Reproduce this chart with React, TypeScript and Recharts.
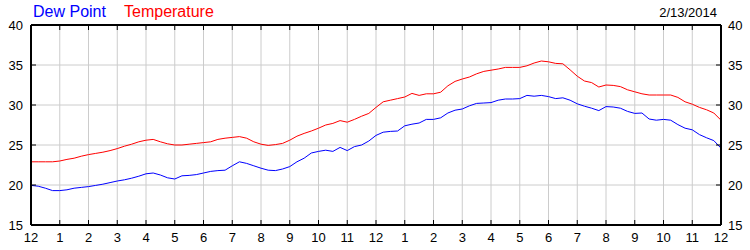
import { LineChart, Line, XAxis, YAxis, CartesianGrid } from 'recharts';

// ---------------------------------------------------------------------------
// Data: readings every 15 minutes, midnight to midnight (2/13/2014)
// ---------------------------------------------------------------------------

const TEMPERATURE = [
  22.9, 22.9, 22.9, 22.9, 23.0, 23.2, 23.35, 23.6, 23.8, 23.95, 24.1, 24.3,
  24.55, 24.85, 25.1, 25.4, 25.6, 25.7, 25.4, 25.15, 25.0, 25.0, 25.1, 25.2,
  25.3, 25.4, 25.7, 25.85, 25.95, 26.05, 25.85, 25.4, 25.1, 24.95, 25.05, 25.2,
  25.6, 26.1, 26.45, 26.75, 27.1, 27.5, 27.7, 28.05, 27.85, 28.2, 28.6, 28.95,
  29.7, 30.4, 30.6, 30.8, 31.0, 31.45, 31.2, 31.4, 31.4, 31.6, 32.4, 32.95,
  33.25, 33.5, 33.9, 34.2, 34.35, 34.5, 34.7, 34.7, 34.7, 34.9, 35.25, 35.5,
  35.4, 35.2, 35.15, 34.4, 33.6, 33.0, 32.8, 32.25, 32.5, 32.45, 32.3, 31.9,
  31.65, 31.4, 31.25, 31.25, 31.25, 31.25, 30.95, 30.4, 30.1, 29.7, 29.4, 29.0,
  28.1,
];

const DEW_POINT = [
  19.95, 19.85, 19.6, 19.3, 19.3, 19.4, 19.6, 19.7, 19.8, 19.95, 20.1, 20.3,
  20.5, 20.65, 20.85, 21.1, 21.4, 21.5, 21.25, 20.9, 20.75, 21.15, 21.2, 21.3,
  21.5, 21.7, 21.8, 21.85, 22.4, 22.9, 22.7, 22.4, 22.1, 21.85, 21.8, 22.0,
  22.3, 22.9, 23.35, 24.0, 24.2, 24.35, 24.2, 24.7, 24.3, 24.8, 25.0, 25.5,
  26.2, 26.6, 26.7, 26.75, 27.4, 27.6, 27.75, 28.2, 28.2, 28.4, 29.0, 29.35,
  29.5, 29.9, 30.2, 30.25, 30.3, 30.6, 30.75, 30.75, 30.8, 31.2, 31.1, 31.2,
  31.05, 30.8, 30.9, 30.6, 30.15, 29.85, 29.6, 29.3, 29.8, 29.75, 29.6, 29.2,
  28.95, 29.0, 28.25, 28.1, 28.2, 28.1, 27.55, 27.1, 26.9, 26.3, 25.9, 25.55,
  24.6,
];

const HOUR_TICKS = [
  0, 1, 2, 3, 4, 5, 6, 7, 8, 9, 10, 11, 12, 13, 14, 15, 16, 17, 18, 19, 20, 21,
  22, 23, 24,
];
const VALUE_TICKS = [15, 20, 25, 30, 35, 40];

const DATE_LABEL = '2/13/2014';

const FONT = '"Liberation Sans", Arial, sans-serif';

const data = TEMPERATURE.map((t, i) => ({
  hour: i / 4,
  temp: t,
  dew: DEW_POINT[i],
}));

const hourLabel = (h: number) => (h % 12 === 0 ? '12' : String(h % 12));

const AXIS_LINE = { stroke: '#000', strokeWidth: 2 };

// ---------------------------------------------------------------------------
// Custom ticks (inward tick marks, labels outside)
// ---------------------------------------------------------------------------

function BottomTick({ x, y, payload }: any) {
  return (
    <g>
      <line x1={x} y1={y} x2={x} y2={y - 5} stroke="#000" />
      <text x={x} y={y + 17} textAnchor="middle" fill="#000" fontSize={13} fontFamily={FONT}>
        {hourLabel(payload.value)}
      </text>
    </g>
  );
}

function TopTick({ x, y }: any) {
  return <line x1={x} y1={y} x2={x} y2={y + 5} stroke="#000" />;
}

function LeftTick({ x, y, payload }: any) {
  return (
    <g>
      <line x1={x} y1={y} x2={x + 5} y2={y} stroke="#000" />
      <text x={x - 8} y={y + 5} textAnchor="end" fill="#000" fontSize={13} fontFamily={FONT}>
        {payload.value}
      </text>
    </g>
  );
}

function RightTick({ x, y, payload }: any) {
  return (
    <g>
      <line x1={x} y1={y} x2={x - 5} y2={y} stroke="#000" />
      <text x={x + 7} y={y + 5} textAnchor="start" fill="#000" fontSize={13} fontFamily={FONT}>
        {payload.value}
      </text>
    </g>
  );
}

export default function App() {
  return (
    <div style={{ position: 'absolute', left: 0, top: 0, width: 750, height: 250, background: '#fff' }}>
      <LineChart width={750} height={250} data={data} margin={{ top: 24, right: 0, left: 0, bottom: 0 }}>
        <CartesianGrid stroke="#cccccc" />
        <XAxis
          dataKey="hour"
          type="number"
          domain={[0, 24]}
          ticks={HOUR_TICKS}
          interval={0}
          allowDataOverflow
          height={25}
          tickSize={0}
          tickMargin={0}
          tickLine={false}
          axisLine={AXIS_LINE}
          tick={<BottomTick />}
        />
        <XAxis
          xAxisId="top"
          dataKey="hour"
          orientation="top"
          type="number"
          domain={[0, 24]}
          ticks={HOUR_TICKS}
          interval={0}
          allowDataOverflow
          height={1}
          tickSize={0}
          tickMargin={0}
          tickLine={false}
          axisLine={AXIS_LINE}
          tick={<TopTick />}
        />
        <YAxis
          type="number"
          domain={[15, 40]}
          ticks={VALUE_TICKS}
          interval={0}
          allowDataOverflow
          width={31}
          tickSize={0}
          tickMargin={0}
          tickLine={false}
          axisLine={AXIS_LINE}
          tick={<LeftTick />}
        />
        <YAxis
          yAxisId="right"
          orientation="right"
          type="number"
          domain={[15, 40]}
          ticks={VALUE_TICKS}
          interval={0}
          allowDataOverflow
          width={29}
          tickSize={0}
          tickMargin={0}
          tickLine={false}
          axisLine={AXIS_LINE}
          tick={<RightTick />}
        />
        <Line dataKey="temp" name="Temperature" stroke="#ff0000" strokeWidth={1} dot={false} type="linear" isAnimationActive={false} />
        <Line dataKey="dew" name="Dew Point" stroke="#0000ff" strokeWidth={1} dot={false} type="linear" isAnimationActive={false} />
      </LineChart>
      <svg
        width={750}
        height={24}
        style={{ position: 'absolute', left: 0, top: 0, pointerEvents: 'none' }}
      >
        <text x={33} y={17} fill="#0000ff" fontSize={16} fontFamily={FONT}>
          Dew Point
        </text>
        <text x={124} y={17} fill="#ff0000" fontSize={16} fontFamily={FONT}>
          Temperature
        </text>
        <text x={717} y={17} textAnchor="end" fill="#000" fontSize={13} fontFamily={FONT}>
          {DATE_LABEL}
        </text>
      </svg>
    </div>
  );
}
